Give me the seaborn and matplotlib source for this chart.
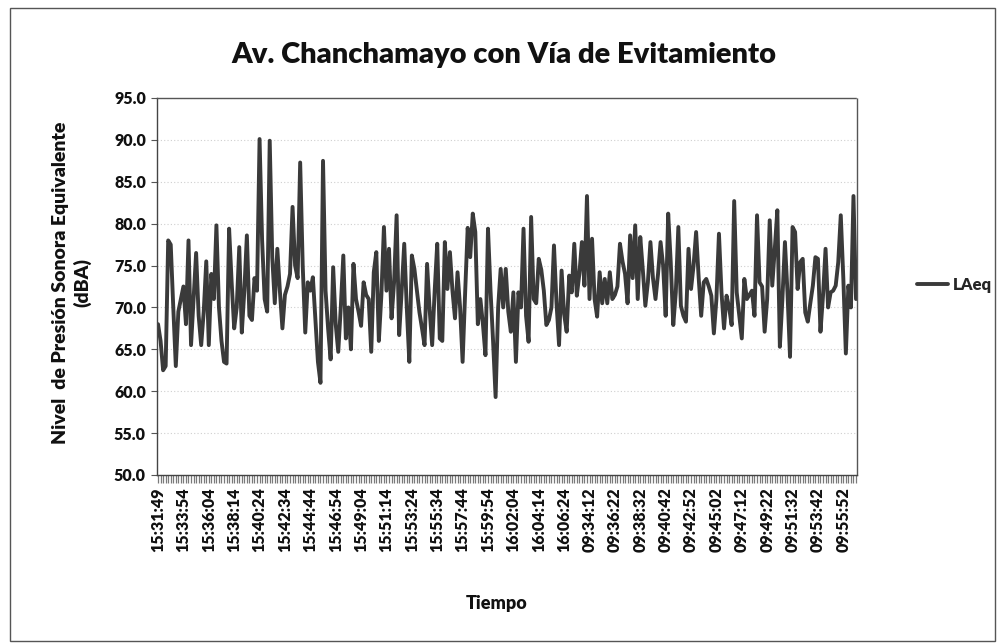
import numpy as np
import pandas as pd
import matplotlib
matplotlib.use("Agg")
import matplotlib.pyplot as plt
import seaborn as sns
from matplotlib.patches import Rectangle
from matplotlib.ticker import MultipleLocator, FormatStrFormatter

# LAeq readings (dBA), 10 samples between labelled ticks
laeq = [
    68, 66, 62.5, 63, 78, 77.5, 70, 63, 69.5, 71,
    72.5, 68, 78, 65.5, 71, 76.5, 69, 65.5, 69.5, 75.5,
    65.5, 74, 71, 79.8, 70, 66, 63.5, 63.3, 79.4, 73,
    67.5, 70, 77.2, 67, 72, 78.6, 69, 68.5, 73.5, 72,
    90.1, 78, 71, 69.5, 89.9, 76, 70.5, 77, 72, 67.5,
    71.5, 72.5, 74, 82, 75, 73.5, 87.3, 75, 67, 73,
    72, 73.6, 68.5, 63.5, 61, 87.5, 72, 67.5, 63.8, 74.8,
    68, 64.7, 70, 76.2, 66.3, 70, 65, 75.2, 71, 69.5,
    67.8, 73, 71.5, 71, 64.7, 74.2, 76.6, 66, 71.5, 79.6,
    72, 77, 68.7, 73, 81, 66.7, 72, 77.6, 70, 63.5,
    76.2, 74.6, 72, 69.4, 67.5, 65.5, 75.2, 69.8, 65.5, 72,
    77.6, 66.3, 66, 77.8, 72.2, 76.6, 72, 68.7, 74.2, 70,
    63.5, 71.8, 79.5, 76, 81.2, 79, 68, 71, 68, 64.3,
    79.4, 72, 66, 59.3, 70, 74.6, 70, 74.6, 69.5, 67.1,
    71.8, 63.5, 71.8, 70, 79.4, 69, 65.9, 80.8, 71, 70.5,
    75.8, 74.5, 72, 67.9, 68.5, 70, 77.4, 70.5, 65.5, 74.4,
    69.2, 67.1, 73.8, 71.8, 77.6, 71.4, 74, 77.8, 72.6, 83.3,
    71, 78.2, 71, 68.9, 74.2, 70.5, 73.4, 70.5, 74.2, 71,
    71.5, 72.5, 77.6, 75.5, 74, 70.5, 78.6, 73.5, 79.8, 71,
    78.4, 74.5, 70.2, 73, 77.8, 73.5, 71, 74, 77.8, 75,
    69, 81.2, 75.4, 67.9, 71.8, 79.6, 70.2, 69, 68.3, 77,
    72.2, 75, 79, 73.6, 69, 73, 73.4, 72.5, 71.4, 66.9,
    71, 78.8, 71.8, 67.5, 71.4, 70, 67.9, 82.7, 71.8, 69,
    66.3, 73.4, 71, 71.5, 72, 69, 81, 73, 72.5, 67.1,
    71, 80.4, 72.6, 77, 81.6, 65.3, 71, 77.8, 71.8, 64.1,
    79.6, 79, 72.2, 75.4, 75.8, 69.4, 68.3, 70.5, 72.6, 76,
    75.8, 67.1, 71.4, 77, 70, 71.8, 72, 72.6, 75.4, 81,
    73.5, 64.5, 72.6, 70, 83.3, 71,
]

tick_labels = [
    "15:31:49", "15:33:54", "15:36:04", "15:38:14", "15:40:24", "15:42:34",
    "15:44:44", "15:46:54", "15:49:04", "15:51:14", "15:53:24", "15:55:34",
    "15:57:44", "15:59:54", "16:02:04", "16:04:14", "16:06:24", "09:34:12",
    "09:36:22", "09:38:32", "09:40:42", "09:42:52", "09:45:02", "09:47:12",
    "09:49:22", "09:51:32", "09:53:42", "09:55:52",
]
tick_step = 10

df = pd.DataFrame({"muestra": np.arange(len(laeq)), "LAeq": laeq})

sns.set_style("white")
plt.rcParams["font.family"] = ["Lato", "DejaVu Sans"]

W = "heavy"

fig = plt.figure(figsize=(9.97, 6.43), dpi=100)
ax = fig.add_axes([0.1575, 0.2613, 0.7021, 0.5863])

sns.lineplot(data=df, x="muestra", y="LAeq", ax=ax, color="#3a3a3a",
             linewidth=2.8, label="LAeq", legend=False)

ax.set_ylim(50, 95)
ax.set_xlim(-0.4, len(laeq) - 0.6)
ax.yaxis.set_major_locator(MultipleLocator(5))
ax.yaxis.set_major_formatter(FormatStrFormatter("%.1f"))
ax.set_xticks(np.arange(len(tick_labels)) * tick_step)
ax.set_xticklabels(tick_labels, rotation=90)
ax.set_xticks(np.arange(len(laeq)), minor=True)

ax.tick_params(axis="x", which="both", direction="out", length=6, width=0.9,
               color="#7a7a7a", labelsize=11.5, pad=3, bottom=True)
ax.tick_params(axis="y", direction="out", length=4, width=0.8, color="#555555",
               labelsize=11.5, pad=4, left=True)
for lab in ax.get_xticklabels() + ax.get_yticklabels():
    lab.set_fontweight(W)
    lab.set_color("#111111")

ax.yaxis.grid(True, color="#cfcfcf", linestyle=(0, (1, 2)), linewidth=0.8)
ax.set_axisbelow(True)
for side in ["top", "right"]:
    ax.spines[side].set_linestyle((0, (1, 1)))
    ax.spines[side].set_color("#555555")
    ax.spines[side].set_linewidth(1.0)
for side in ["left", "bottom"]:
    ax.spines[side].set_color("#444444")
    ax.spines[side].set_linewidth(1.0)

ax.set_xlabel("")
ax.set_ylabel("")

fig.text(0.505, 0.914, "Av. Chanchamayo con Vía de Evitamiento",
         ha="center", va="center", fontsize=21, fontweight=W, color="#111111")
fig.text(0.072, 0.56, "Nivel  de Presión Sonora Equivalente\n(dBA)",
         ha="center", va="center", rotation=90, fontsize=14,
         fontweight=W, multialignment="center", linespacing=1.25,
         color="#111111")
fig.text(0.4985, 0.0607, "Tiempo", ha="center", va="center",
         fontsize=13, fontweight=W, color="#111111")

handles, labels = ax.get_legend_handles_labels()
fig.legend(handles, labels, loc="center left", bbox_to_anchor=(0.911, 0.557),
           frameon=False, handlelength=1.9, handletextpad=0.25,
           borderpad=0, prop={"weight": W, "size": 12})

fig.patches.append(Rectangle((10 / 997, 2 / 643), 985 / 997, 633 / 643,
                             transform=fig.transFigure, fill=False,
                             edgecolor="#555555", linewidth=1.0))

fig.savefig("out.png", dpi=100)
